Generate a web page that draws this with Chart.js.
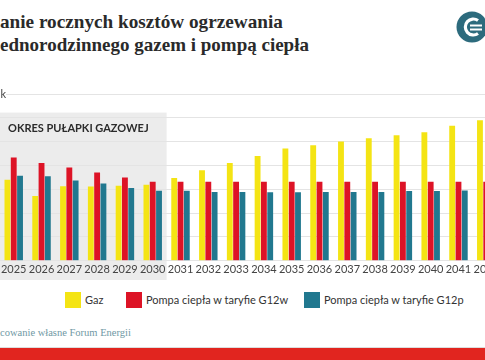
<!DOCTYPE html>
<html>
<head>
<meta charset="utf-8">
<script src="https://cdn.jsdelivr.net/npm/chart.js@4"></script>
<style>
  html, body { margin: 0; padding: 0; background: #fff; }
  body { width: 485px; height: 360px; position: relative; overflow: hidden; font-family: Lato, sans-serif; }
  .title { position: absolute; font-family: "Liberation Serif", serif; font-weight: bold; font-size: 19px; color: #2a2a2a; white-space: nowrap; }
  #unit { position: absolute; left: -40px; top: 87px; width: 46px; text-align: right; font-size: 11px; color: #444; background: #fff; line-height: 14px; }
  #wrap { position: absolute; left: -1px; top: 84px; width: 502px; height: 196px; }
  .leg { position: absolute; top: 292px; height: 16px; font-size: 11px; color: #333; line-height: 16px; white-space: nowrap; }
  .leg span { display: inline-block; width: 16px; height: 16px; vertical-align: top; margin-right: 4px; }
  #src { position: absolute; top: 327px; font-family: "Liberation Serif", serif; font-size: 10px; color: #6f98a4; white-space: nowrap; }
  #rule { position: absolute; left: 0; top: 347px; width: 485px; height: 1px; background: #ddd; }
  #band { position: absolute; left: 0; top: 348px; width: 485px; height: 12px; background: #e1251f; }
  #logo { position: absolute; left: 456px; top: 11px; }
</style>
</head>
<body>
<div class="title" id="t1" style="top:11px">Porównanie rocznych kosztów ogrzewania</div>
<div class="title" id="t2" style="top:34px">domu jednorodzinnego gazem i pompą ciepła</div>
<svg id="logo" width="32" height="32" viewBox="0 0 32 32">
  <circle cx="16" cy="16" r="15.5" fill="#2d6b7d"/>
  <path d="M22 9.5 A8 8 0 1 0 22 22.5" fill="none" stroke="#fff" stroke-width="3.2"/>
  <line x1="14" y1="14.5" x2="26" y2="14.5" stroke="#fff" stroke-width="2"/>
  <line x1="14" y1="18.5" x2="26" y2="18.5" stroke="#fff" stroke-width="2"/>
</svg>
<div id="wrap"><canvas id="chart"></canvas></div>
<div id="unit">zł/rok</div>
<div id="legend"></div>
<div id="src">Źródło: opracowanie własne Forum Energii</div>
<div id="rule"></div>
<div id="band"></div>
<script>
// lata
const years = ["2025", "2026", "2027", "2028", "2029", "2030", "2031", "2032", "2033",
  "2034", "2035", "2036", "2037", "2038", "2039", "2040", "2041", "2042"];

// roczny koszt ogrzewania, zł
const gaz = [3400, 2720, 3130, 3120, 3150, 3190, 3470, 3800, 4100,
  4400, 4710, 4850, 5010, 5140, 5270, 5400, 5670, 5900];
const g12w = [4330, 4100, 3920, 3710, 3500, 3320, 3320, 3320, 3320,
  3320, 3320, 3320, 3320, 3320, 3320, 3320, 3320, 3320];
const g12p = [3570, 3550, 3370, 3240, 3060, 2940, 2940, 2890, 2890,
  2880, 2880, 2890, 2890, 2890, 2930, 2930, 2950, 2950];

const seriesNames = ["Gaz", "Pompa ciepła w taryfie G12w", "Pompa ciepła w taryfie G12p"];
const colors = ["#f4e414", "#dd1326", "#21788f"];

const gasTrapEnd = "2030";
const gasTrapLabel = "OKRES PUŁAPKI GAZOWEJ";

// przyciecie tytulu i zrodla jak na obrazku
function clipLeft(id, prefix, visibleWidth) {
  const el = document.getElementById(id);
  const c = document.createElement("canvas").getContext("2d");
  const cs = getComputedStyle(el);
  let size = parseFloat(cs.fontSize);
  const font = s => cs.fontWeight + " " + s + "px " + cs.fontFamily;
  if (visibleWidth) {
    c.font = font(size);
    const rest = el.textContent.slice(prefix.length);
    size = size * visibleWidth / c.measureText(rest).width;
    el.style.fontSize = size + "px";
  }
  c.font = font(size);
  el.style.left = (-c.measureText(prefix).width) + "px";
}
clipLeft("t1", "Porówn", 283);
clipLeft("t2", "domu j");
clipLeft("src", "Źródło: opra", 131);

// legenda
const legLeft = [65, 126, 304];
const legend = document.getElementById("legend");
seriesNames.forEach((n, i) => {
  const d = document.createElement("div");
  d.className = "leg";
  d.style.left = legLeft[i] + "px";
  d.innerHTML = '<span style="background:' + colors[i] + '"></span>' + n;
  legend.appendChild(d);
});

// szare tlo okresu pulapki gazowej
const trapBox = {
  id: "trapBox",
  beforeDraw(chart) {
    const { ctx, scales } = chart;
    const x = scales.x;
    const i = years.indexOf(gasTrapEnd);
    const right = (x.getPixelForValue(i) + x.getPixelForValue(i + 1)) / 2;
    const top = scales.y.getPixelForValue(6220);
    ctx.save();
    ctx.fillStyle = "#ececec";
    ctx.fillRect(0, top, right, chart.height - top);
    ctx.fillStyle = "#2b2b2b";
    ctx.font = "bold 11px Lato";
    ctx.textBaseline = "middle";
    ctx.fillText(gasTrapLabel, 9, top + 16);
    ctx.restore();
  }
};

new Chart(document.getElementById("chart"), {
  type: "bar",
  data: {
    labels: years,
    datasets: [
      { label: seriesNames[0], data: gaz, backgroundColor: colors[0] },
      { label: seriesNames[1], data: g12w, backgroundColor: colors[1] },
      { label: seriesNames[2], data: g12p, backgroundColor: colors[2] }
    ]
  },
  options: {
    responsive: true,
    maintainAspectRatio: false,
    animation: false,
    layout: { padding: { top: 10, bottom: 2, left: 0, right: 0 } },
    datasets: { bar: { categoryPercentage: 0.68, barPercentage: 0.93 } },
    plugins: { legend: { display: false }, tooltip: { enabled: false } },
    scales: {
      x: {
        grid: { display: false, drawTicks: false },
        border: { display: false },
        ticks: { color: "#444", font: { family: "Lato", size: 11 }, padding: 2, maxRotation: 0, autoSkip: false }
      },
      y: {
        min: 0, max: 7000,
        grid: { color: "#e4e4e4", drawTicks: false },
        border: { display: false },
        ticks: { display: false, stepSize: 1000 }
      }
    }
  },
  plugins: [trapBox]
});
</script>
</body>
</html>
